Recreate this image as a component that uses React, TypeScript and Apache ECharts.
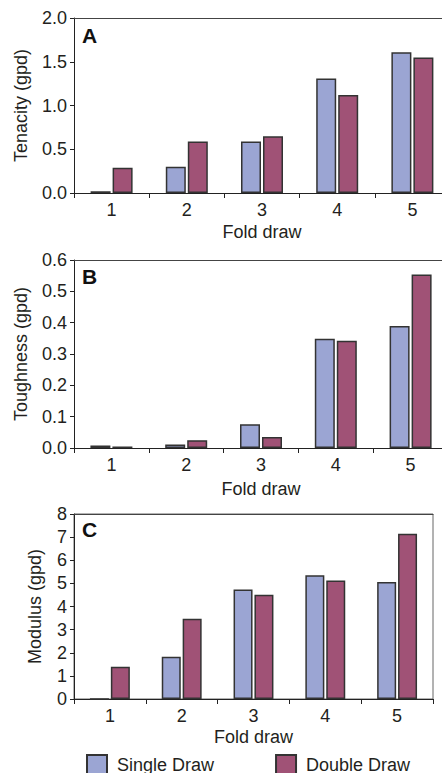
import React, { useEffect, useRef } from "react";
import * as echarts from "echarts";

const categories = ["1", "2", "3", "4", "5"];
const tenacitySingle = [0.02, 0.3, 0.59, 1.31, 1.61];
const tenacityDouble = [0.29, 0.59, 0.65, 1.12, 1.55];
const toughnessSingle = [0.008, 0.011, 0.076, 0.349, 0.389];
const toughnessDouble = [0.005, 0.025, 0.035, 0.342, 0.554];
const modulusSingle = [0, 1.83, 4.73, 5.35, 5.06];
const modulusDouble = [1.4, 3.47, 4.51, 5.12, 7.15];
const seriesNames = ["Single Draw", "Double Draw"];
const panelLetters = ["A", "B", "C"];
const yNames = ["Tenacity (gpd)", "Toughness (gpd)", "Modulus (gpd)"];
const xName = "Fold draw";

const FONT = "'Liberation Sans', Arial, Helvetica, sans-serif";
const TEXT = "#231f20";
const BLUE = "#9ba5d3";
const PURPLE = "#a05276";
const EDGE = "#333333";

export default function App() {
  const ref = useRef<HTMLDivElement>(null);
  useEffect(() => {
    document.body.style.margin = "0";
    document.body.style.overflow = "hidden";
    if (!ref.current) return;
    const chart = echarts.init(ref.current, null, { renderer: "svg" });

    const grids = [
      { left: 74, top: 18, width: 376, height: 175 },
      { left: 74, top: 260, width: 374, height: 188 },
      { left: 74, top: 514, width: 359, height: 185 },
    ];
    const yCfg = [
      { max: 2, interval: 0.5, dec: 1, gap: 44 },
      { max: 0.6, interval: 0.1, dec: 1, gap: 44 },
      { max: 8, interval: 1, dec: 0, gap: 30 },
    ];
    const xGaps = [30, 32, 29];
    const barWidths = [20, 20, 19];
    const data = [
      [tenacitySingle, tenacityDouble],
      [toughnessSingle, toughnessDouble],
      [modulusSingle, modulusDouble],
    ];
    const letterTops = [25, 266, 519];

    const bottomAxes = grids.map((_, i) => ({
      type: "category",
      gridIndex: i,
      position: "bottom",
      data: categories,
      name: xName,
      nameLocation: "middle",
      nameGap: xGaps[i],
      nameTextStyle: { fontSize: 18, color: TEXT, fontFamily: FONT },
      axisLine: { lineStyle: { color: "#222", width: 1 } },
      axisTick: { show: true, length: 5, lineStyle: { color: "#222" } },
      axisLabel: { fontSize: 18, color: TEXT, fontFamily: FONT, margin: 8 },
      splitLine: { show: false },
    }));
    const topAxes = grids.map((_, i) => ({
      type: "category",
      gridIndex: i,
      position: "top",
      data: categories,
      axisLine: { show: true, lineStyle: { color: "#444", width: 1 } },
      axisTick: { show: false },
      axisLabel: { show: false },
      splitLine: { show: false },
    }));

    const option: any = {
      animation: false,
      textStyle: { fontFamily: FONT, color: TEXT },
      grid: grids.map((g, i) => ({
        ...g,
        show: i === 2,
        borderColor: "#666",
        borderWidth: 1,
        backgroundColor: "transparent",
        containLabel: false,
        outerBoundsMode: "none",
      })),
      xAxis: [...bottomAxes, ...topAxes],
      yAxis: grids.map((_, i) => ({
        type: "value",
        gridIndex: i,
        min: 0,
        max: yCfg[i].max,
        interval: yCfg[i].interval,
        name: yNames[i],
        nameLocation: "middle",
        nameGap: yCfg[i].gap,
        nameTextStyle: { fontSize: 18, color: TEXT, fontFamily: FONT },
        axisLine: { show: true, lineStyle: { color: "#222", width: 1 } },
        axisTick: { show: true, length: 4, lineStyle: { color: "#222" } },
        axisLabel: {
          fontSize: 18,
          color: TEXT,
          fontFamily: FONT,
          margin: 7,
          formatter: (v: number) => v.toFixed(yCfg[i].dec),
        },
        splitLine: { show: false },
      })),
      legend: {
        left: 86,
        top: 754,
        padding: 0,
        itemWidth: 20,
        itemHeight: 19,
        itemGap: 61,
        icon: "rect",
        data: seriesNames,
        textStyle: {
          fontSize: 18,
          color: TEXT,
          fontFamily: FONT,
          padding: [0, 0, 0, 5],
        },
      },
      graphic: panelLetters.map((l, i) => ({
        type: "text",
        left: 82,
        top: letterTops[i],
        style: {
          text: l,
          font: `bold 21px ${FONT}`,
          fill: "#111",
        },
      })),
      series: data.flatMap((pair, i) =>
        pair.map((vals, j) => ({
          type: "bar",
          name: seriesNames[j],
          xAxisIndex: i,
          yAxisIndex: i,
          data: vals,
          barWidth: barWidths[i],
          barGap: "10%",
          itemStyle: {
            color: j === 0 ? BLUE : PURPLE,
            borderColor: EDGE,
            borderWidth: 1.5,
          },
        }))
      ),
    };
    chart.setOption(option);
    return () => chart.dispose();
  }, []);

  return (
    <div
      ref={ref}
      style={{
        position: "absolute",
        left: 0,
        top: 0,
        width: 442,
        height: 773,
        overflow: "hidden",
        background: "#fff",
      }}
    />
  );
}
